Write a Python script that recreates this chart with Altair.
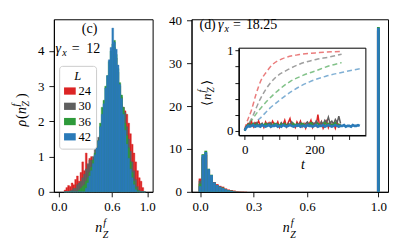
import altair as alt
import pandas as pd

FONT = "Liberation Serif"
L_LABELS = ["24", "30", "36", "42"]
COLORS = ["#dc2424", "#5f5f5f", "#2e9a3a", "#2a7ab8"]

# ---------------- panel (c): histogram, bin width 0.02, left edges 0.06 .. 0.96
LEFT_BIN_W = 0.02
left_edges = [round(0.06 + LEFT_BIN_W * i, 2) for i in range(46)]
left_red = [0.05, 0.12, 0.18, 0.15, 0.25, 0.20, 0.35, 0.45, 0.30, 0.55,
            0.85, 0.60, 1.10, 0.75, 0.95, 1.00, 0.90, 1.05, 1.10, 1.15,
            1.25, 1.40, 1.60, 1.80, 2.00, 2.20, 2.40, 2.60, 2.70, 2.70,
            2.65, 2.60, 2.50, 2.40, 2.30, 2.20, 1.95, 1.65, 1.35, 1.10,
            0.85, 0.60, 0.40, 0.30, 0.12, 0.00]
left_gray = [0.00, 0.00, 0.00, 0.03, 0.05, 0.10, 0.10, 0.20, 0.25, 0.30,
             0.40, 0.50, 0.65, 0.80, 0.90, 0.90, 1.00, 1.20, 1.45, 1.55,
             1.60, 1.85, 2.10, 2.40, 2.80, 3.20, 3.60, 3.90, 4.10, 3.80,
             3.40, 3.00, 2.70, 2.40, 2.25, 1.85, 1.50, 1.15, 0.85, 0.60,
             0.35, 0.15, 0.05, 0.00, 0.00, 0.00]
left_green = [0.00, 0.00, 0.00, 0.00, 0.00, 0.00, 0.00, 0.00, 0.05, 0.10,
              0.15, 0.20, 0.30, 0.40, 0.55, 0.70, 0.90, 1.10, 1.20, 1.45,
              1.95, 2.40, 2.60, 3.00, 3.30, 3.70, 4.00, 4.20, 4.30, 3.90,
              3.50, 3.10, 2.75, 2.40, 1.95, 1.60, 1.25, 0.85, 0.55, 0.30,
              0.12, 0.04, 0.00, 0.00, 0.00, 0.00]
left_blue = [0.00, 0.00, 0.00, 0.00, 0.00, 0.00, 0.00, 0.00, 0.00, 0.00,
             0.00, 0.00, 0.10, 0.25, 0.45, 0.60, 0.80, 1.05, 1.25, 1.45,
             1.85, 2.20, 2.50, 2.95, 3.30, 3.75, 4.10, 4.65, 4.25, 4.05,
             3.60, 3.05, 2.65, 2.20, 1.75, 1.35, 0.95, 0.65, 0.40, 0.20,
             0.06, 0.00, 0.00, 0.00, 0.00, 0.00]

# ---------------- panel (d): histogram, bin width 0.016 (bin centres)
RIGHT_BIN_W = 0.016
right_centers = [0.0, 0.016, 0.032, 0.048, 0.064, 0.08, 0.096, 0.112, 0.128,
                 0.144, 0.16, 0.176, 0.192, 0.208, 0.224, 0.24, 0.256, 1.0]
right_red = [3.1, 7.8, 8.6, 5.0, 3.7, 2.3, 1.8, 1.4, 1.2, 0.8, 0.55, 0.4, 0.3, 0.15, 0.1, 0.08, 0.05, 37.6]
right_gray = [2.6, 8.2, 9.0, 5.1, 3.8, 2.2, 1.6, 1.2, 0.9, 0.6, 0.4, 0.3, 0.12, 0.06, 0.04, 0.03, 0.02, 37.9]
right_green = [1.9, 8.8, 9.6, 5.4, 4.0, 2.1, 1.5, 1.1, 1.0, 0.55, 0.35, 0.25, 0.1, 0.05, 0.03, 0.02, 0.01, 38.5]
right_blue = [1.3, 8.6, 9.3, 5.3, 3.9, 2.2, 1.6, 1.2, 0.9, 0.6, 0.35, 0.2, 0.1, 0.03, 0.02, 0.01, 0.0, 38.3]

# ---------------- inset: <n_Z^f>(t)
dash_red_t = [0, 5, 19, 33, 47, 62, 81, 109, 157, 214, 278]
dash_red_v = [0.02, 0.09, 0.25, 0.46, 0.63, 0.73, 0.83, 0.90, 0.95, 0.975, 0.99]
dash_gray_t = [0, 9.5, 24, 43, 62, 90, 119, 157, 205, 243, 278]
dash_gray_v = [0.02, 0.07, 0.19, 0.38, 0.525, 0.67, 0.75, 0.83, 0.89, 0.92, 0.955]
dash_green_t = [0, 14, 33, 62, 90, 129, 167, 205, 243, 278]
dash_green_v = [0.02, 0.09, 0.21, 0.36, 0.48, 0.61, 0.69, 0.75, 0.81, 0.85]
dash_blue_t = [0, 19, 43, 71, 100, 138, 186, 233, 281, 333]
dash_blue_v = [0.02, 0.07, 0.15, 0.275, 0.38, 0.50, 0.61, 0.68, 0.73, 0.775]

noisy_t_short = list(range(0, 280, 5))   # 0 .. 275
noisy_t_long = list(range(0, 335, 5))    # 0 .. 330
noisy_red = [0.00, 0.06, 0.09, 0.07, 0.11, 0.05, 0.10, 0.08, 0.12, 0.06,
             0.09, 0.04, 0.11, 0.07, 0.10, 0.05, 0.12, 0.08, 0.06, 0.11,
             0.04, 0.09, 0.07, 0.13, 0.05, 0.10, 0.15, 0.06, 0.08, 0.04,
             0.11, 0.07, 0.12, 0.05, 0.09, 0.03, 0.10, 0.08, 0.13, 0.04,
             0.09, 0.06, 0.20, 0.05, 0.11, 0.03, 0.08, 0.12, 0.04, 0.10,
             0.06, 0.09, 0.03, 0.11, 0.05, 0.08]
noisy_gray = [0.00, 0.05, 0.07, 0.09, 0.06, 0.08, 0.07, 0.10, 0.06, 0.08,
              0.09, 0.07, 0.06, 0.09, 0.08, 0.10, 0.06, 0.07, 0.09, 0.08,
              0.06, 0.10, 0.07, 0.08, 0.06, 0.09, 0.07, 0.11, 0.08, 0.06,
              0.09, 0.07, 0.10, 0.08, 0.06, 0.09, 0.11, 0.07, 0.08, 0.10,
              0.07, 0.12, 0.09, 0.06, 0.11, 0.08, 0.13, 0.10, 0.17, 0.09,
              0.12, 0.08, 0.14, 0.10, 0.18, 0.09]
noisy_green = [0.00, 0.05, 0.08, 0.06, 0.07, 0.09, 0.06, 0.08, 0.07, 0.06,
               0.08, 0.07, 0.09, 0.06, 0.08, 0.07, 0.06, 0.09, 0.07, 0.08,
               0.06, 0.08, 0.07, 0.09, 0.06, 0.07, 0.08, 0.06, 0.09, 0.07,
               0.08, 0.06, 0.07, 0.09, 0.08, 0.06, 0.07, 0.08, 0.10, 0.07,
               0.06, 0.08, 0.09, 0.07, 0.06, 0.08, 0.10, 0.07, 0.09, 0.06,
               0.08, 0.07, 0.10, 0.06, 0.08, 0.07]
noisy_blue = [0.00, 0.04, 0.06, 0.05, 0.06, 0.07, 0.05, 0.06, 0.06, 0.05,
              0.07, 0.06, 0.05, 0.06, 0.07, 0.05, 0.06, 0.06, 0.07, 0.05,
              0.06, 0.05, 0.07, 0.06, 0.05, 0.06, 0.07, 0.06, 0.05, 0.06,
              0.06, 0.07, 0.05, 0.06, 0.06, 0.05, 0.07, 0.06, 0.06, 0.05,
              0.06, 0.07, 0.05, 0.06, 0.06, 0.07, 0.05, 0.06, 0.07, 0.06,
              0.05, 0.06, 0.07, 0.06, 0.05, 0.06, 0.06, 0.07, 0.05, 0.06,
              0.06, 0.05, 0.07, 0.06, 0.06, 0.07, 0.06]

# ---------------- layout constants
LW, LH = 99, 173
RW, RH = 197, 173
INSET_T_DOMAIN = [-16.5, 347.5]
INSET_V_DOMAIN = [-0.06, 1.03]
INSET_X_RANGE = [47.5, 174.8]
INSET_Y_RANGE = [116.5, 29]

# ---------------- build tables
def hist_table(edges_lo, width, series):
    rows = []
    for lab, vals in zip(L_LABELS, series):
        for lo, h in zip(edges_lo, vals):
            rows.append({"L": lab, "x0": lo, "x1": lo + width, "h": h})
    return pd.DataFrame(rows)

df_left = hist_table(left_edges, LEFT_BIN_W,
                     [left_red, left_gray, left_green, left_blue])
df_right = hist_table([c - RIGHT_BIN_W / 2 for c in right_centers], RIGHT_BIN_W,
                      [right_red, right_gray, right_green, right_blue])

color_scale = alt.Scale(domain=L_LABELS, range=COLORS)


def hist_chart(df, xdom, xticks, ydom, yticks, legend, sw):
    enc = dict(
        x=alt.X("x0:Q", scale=alt.Scale(domain=xdom, nice=False, zero=False),
                axis=alt.Axis(values=xticks, format=".1f", title=None)),
        x2="x1:Q",
        y=alt.Y("h:Q", stack=None, scale=alt.Scale(domain=ydom, nice=False),
                axis=alt.Axis(values=yticks, title=None, labelPadding=5)),
        y2=alt.datum(0),
        color=alt.Color("L:N", scale=color_scale, legend=legend),
    )
    if sw > 0:
        enc["stroke"] = alt.Stroke("L:N", scale=color_scale, legend=None)
        return alt.Chart(df).mark_bar(strokeWidth=sw, opacity=1).encode(**enc)
    return alt.Chart(df).mark_bar(opacity=1, strokeWidth=0).encode(**enc)


def text_layer(rows, italic):
    df = pd.DataFrame(rows, columns=["t", "px", "py", "fs", "ang"])
    return alt.Chart(df).mark_text(
        font=FONT, fontStyle="italic" if italic else "normal",
        align="left", baseline="alphabetic", color="black"
    ).encode(
        x=alt.X("px:Q", scale=None, axis=None),
        y=alt.Y("py:Q", scale=None, axis=None),
        text="t:N",
        size=alt.Size("fs:Q", scale=None, legend=None),
        angle=alt.Angle("ang:Q", scale=None, legend=None),
    )


legend = alt.Legend(
    orient="none", legendX=5.3, legendY=46.7, title="L",
    titleFont=FONT, titleFontStyle="italic", titleFontSize=12.5, titleFontWeight="normal",
    titleAnchor="middle", titleAlign="center", titlePadding=2,
    labelFont=FONT, labelFontSize=12.5, labelOffset=2.5,
    symbolType="M-1,-0.62L1,-0.62L1,0.62L-1,0.62Z", symbolSize=137,
    symbolStrokeWidth=0, symbolOpacity=1,
    padding=4.5, rowPadding=2.3, strokeColor="#cccccc", fillColor="white",
    cornerRadius=3,
)

hist_l = hist_chart(df_left, [-0.056, 1.061], [0, 0.6, 1.0], [0, 4.9], [0, 1, 2, 3, 4], legend, 0.4)

left_up = text_layer([
    ["(c)", 28, 13.4, 14, 0],
    ["=", 18, 33.4, 14, 0],
    ["12", 32.5, 33.4, 14, 0],
    ["(", -28, 100, 14, 270],
    [")", -28, 79, 14, 270],
], False)
left_it = text_layer([
    ["γ", 1.5, 33.4, 14, 0],
    ["x", 8.5, 36.5, 10, 0],
    ["n", 41.5, 213.4, 14, 0],
    ["f", 49.5, 207.7, 10, 0],
    ["Z", 49, 219.4, 10, 0],
    ["ρ", -28, 107.5, 14, 270],
    ["n", -28, 95, 14, 270],
    ["f", -34.5, 87.5, 10, 270],
    ["Z", -24.5, 87.5, 10, 270],
], True)

left = alt.layer(hist_l, left_up, left_it).resolve_scale(
    x="independent", y="independent").properties(width=LW, height=LH)

hist_r = hist_chart(df_right, [-0.048, 1.054], [0, 0.3, 0.6, 1.0], [0, 40.3],
                    [0, 10, 20, 30, 40], None, 0)

# inset
frame_df = pd.DataFrame([{"t": INSET_T_DOMAIN[0], "t2": INSET_T_DOMAIN[1],
                          "v": INSET_V_DOMAIN[0], "v2": INSET_V_DOMAIN[1]}])
ix = alt.X("t:Q", scale=alt.Scale(domain=INSET_T_DOMAIN, range=INSET_X_RANGE, nice=False, zero=False),
           axis=alt.Axis(orient="bottom", offset=-(RH - INSET_Y_RANGE[0]),
                         values=[0, 50, 100, 150, 200, 250, 300],
                         labelExpr="datum.value == 0 ? '0' : (datum.value == 200 ? '200' : '')",
                         title="t", titleFont=FONT, titleFontStyle="italic", titleFontSize=14,
                         titleFontWeight="normal", titlePadding=1, tickSize=4, labelPadding=4,
                         zindex=2))
iy = alt.Y("v:Q", scale=alt.Scale(domain=INSET_V_DOMAIN, range=INSET_Y_RANGE, nice=False, zero=False),
           axis=alt.Axis(orient="left", offset=-INSET_X_RANGE[0],
                         values=[0, 0.2, 0.4, 0.6, 0.8, 1],
                         labelExpr="datum.value == 0 ? '0' : (datum.value == 1 ? '1' : '')",
                         title=None, tickSize=4, labelPadding=2, zindex=2))

frame = alt.Chart(frame_df).mark_rect(fill="white", stroke="black", strokeWidth=1).encode(
    x=ix, x2="t2:Q", y=iy, y2="v2:Q")

dash_rows = []
for lab, col, ts, vs in zip(L_LABELS, COLORS,
                            [dash_red_t, dash_gray_t, dash_green_t, dash_blue_t],
                            [dash_red_v, dash_gray_v, dash_green_v, dash_blue_v]):
    for t, v in zip(ts, vs):
        dash_rows.append({"L": lab, "col": col, "t": t, "v": v})
dashed = alt.Chart(pd.DataFrame(dash_rows)).mark_line(
    strokeDash=[5, 3], strokeWidth=1.5, opacity=0.6, interpolate="monotone"
).encode(x=ix, y=iy, color=alt.Color("col:N", scale=None), detail="L:N")

noisy_rows = []
for lab, col, ts, vs, w in zip(L_LABELS, COLORS,
                               [noisy_t_short, noisy_t_short, noisy_t_short, noisy_t_long],
                               [noisy_red, noisy_gray, noisy_green, noisy_blue],
                               [1.5, 1.5, 1.5, 2.6]):
    for t, v in zip(ts, vs):
        noisy_rows.append({"L": lab, "col": col, "t": t, "v": v, "w": w})
noisy = alt.Chart(pd.DataFrame(noisy_rows)).mark_line().encode(
    x=ix, y=iy, color=alt.Color("col:N", scale=None),
    strokeWidth=alt.StrokeWidth("w:Q", scale=None, legend=None), detail="L:N")

inset = alt.layer(frame, dashed, noisy)

right_up = text_layer([
    ["(d)", 8, 9.4, 14, 0],
    ["=", 41.5, 9.4, 14, 0],
    ["18.25", 54.5, 9.4, 14, 0],
    ["⟨", 19.5, 87, 13, 270],
    ["⟩", 19.5, 66, 13, 270],
], False)
right_it = text_layer([
    ["γ", 26.5, 9.4, 14, 0],
    ["x", 33, 12.5, 10, 0],
    ["n", 91.5, 213.4, 14, 0],
    ["f", 99.5, 207.7, 10, 0],
    ["Z", 99, 219.4, 10, 0],
    ["n", 19.5, 81, 13, 270],
    ["f", 13.5, 73.5, 9.5, 270],
    ["Z", 22.5, 73.5, 9.5, 270],
], True)

right = alt.layer(hist_r, inset, right_up, right_it).resolve_scale(
    x="independent", y="independent", color="independent", stroke="independent"
).properties(width=RW, height=RH)

chart = alt.hconcat(left, right, spacing=11).resolve_scale(
    color="independent", stroke="independent"
).properties(
    padding={"left": 3, "top": 5, "right": 0, "bottom": 0},
    background="white",
).configure_view(
    stroke="black", strokeWidth=1
).configure_axis(
    labelFont=FONT, labelFontSize=13, labelColor="black",
    tickColor="black", tickSize=5, tickWidth=0.9,
    domainColor="black", domainWidth=1, grid=False,
    labelFlush=False, labelOverlap=False, labelPadding=4, zindex=1,
)

chart.save("out.html", embed_options={"renderer": "svg", "actions": False})
